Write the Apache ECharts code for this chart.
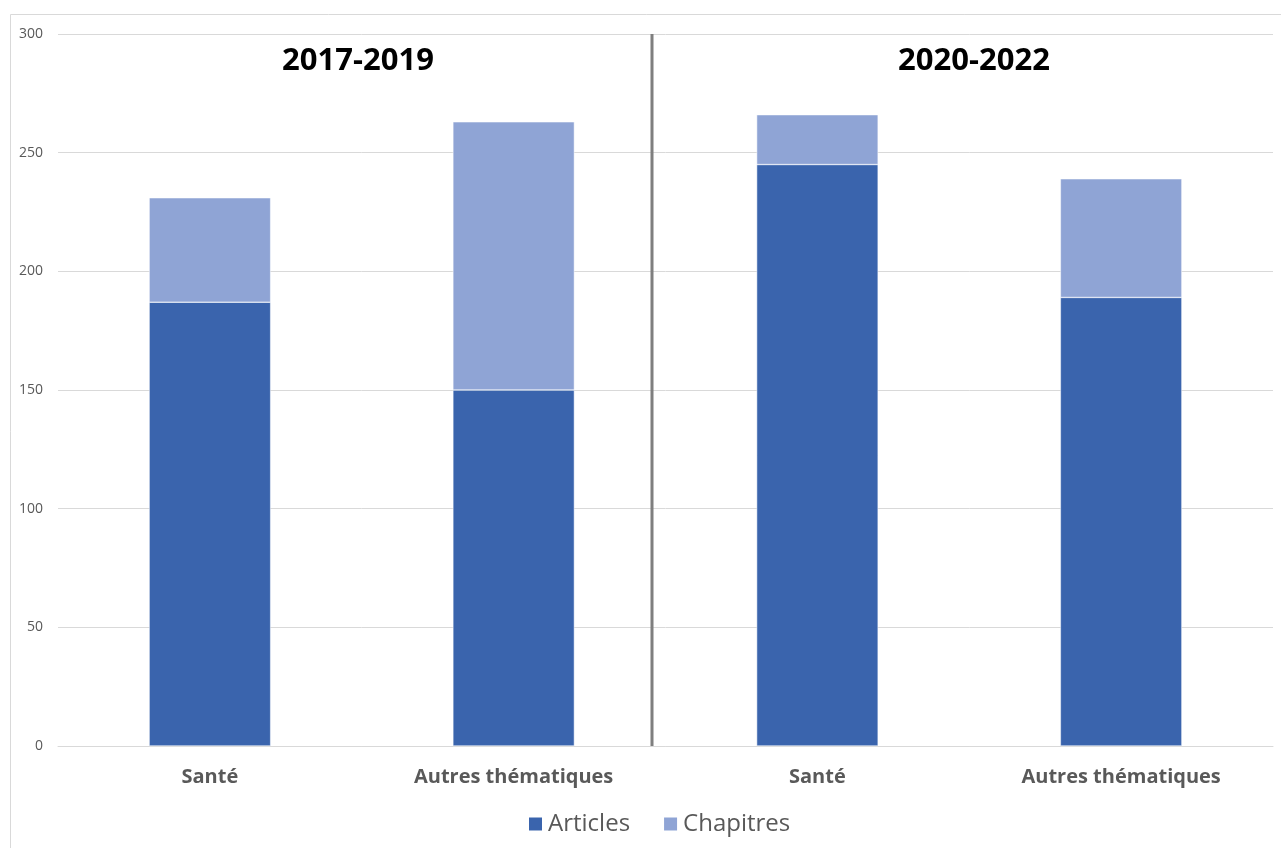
<!DOCTYPE html>
<html>
<head>
<meta charset="utf-8">
<style>html,body{margin:0;padding:0;background:#fff;}#c{width:1281px;height:848px;}</style>
<script src="https://cdn.jsdelivr.net/npm/echarts@6/dist/echarts.min.js"></script>
</head>
<body>
<div id="c"></div>
<script>
var categories = ['Santé', 'Autres thématiques', 'Santé', 'Autres thématiques'];
var periods = ['2017-2019', '2020-2022'];
var articles = [187, 150, 245, 189];
var chapitres = [44, 113, 21, 50];
var yTicks = [0, 50, 100, 150, 200, 250, 300];

var chart = echarts.init(document.getElementById('c'));
var FONT = '"Open Sans", "DejaVu Sans", sans-serif';
chart.setOption({
  animation: false,
  textStyle: { fontFamily: FONT },
  grid: { left: 58, right: 8, top: 34, bottom: 102, containLabel: false },
  legend: {
    bottom: 7, left: 522, itemWidth: 15, itemHeight: 15, itemGap: 32,
    icon: 'rect',
    textStyle: { fontSize: 24, color: '#595959', fontFamily: FONT },
    data: ['Articles', 'Chapitres']
  },
  xAxis: {
    type: 'category', data: categories,
    axisLine: { lineStyle: { color: '#d9d9d9', width: 1 } },
    axisTick: { show: false },
    axisLabel: { fontSize: 20, fontWeight: 'bold', color: '#595959', margin: 21, fontFamily: FONT }
  },
  yAxis: {
    type: 'value', min: 0, max: 300, interval: 50,
    axisLine: { show: false }, axisTick: { show: false },
    splitLine: { lineStyle: { color: '#d9d9d9', width: 1 } },
    axisLabel: { fontSize: 14, color: '#595959', margin: 15, fontFamily: FONT }
  },
  series: [
    { name: 'Articles', type: 'bar', stack: 'a', data: articles, barCategoryGap: '60%',
      itemStyle: { color: '#3a64ad', borderColor: '#ffffff', borderWidth: 0.5 } },
    { name: 'Chapitres', type: 'bar', stack: 'a', data: chapitres, barCategoryGap: '60%',
      itemStyle: { color: '#8fa4d5', borderColor: '#ffffff', borderWidth: 0.5 } }
  ],
  graphic: [
    { type: 'rect', shape: { x: 10.5, y: 14.5, width: 1300, height: 900 },
      style: { fill: 'none', stroke: '#d9d9d9', lineWidth: 1 }, silent: true, z: -1 },
    { type: 'line', shape: { x1: 652, y1: 34, x2: 652, y2: 746 },
      style: { stroke: '#7f7f7f', lineWidth: 3 }, z: 10 },
    { type: 'text', x: 358, y: 61, z: 10,
      style: { text: periods[0], textAlign: 'center', textVerticalAlign: 'middle',
        font: 'bold 31px ' + FONT, fill: '#000' } },
    { type: 'text', x: 974, y: 61, z: 10,
      style: { text: periods[1], textAlign: 'center', textVerticalAlign: 'middle',
        font: 'bold 31px ' + FONT, fill: '#000' } }
  ]
});
</script>
</body>
</html>
